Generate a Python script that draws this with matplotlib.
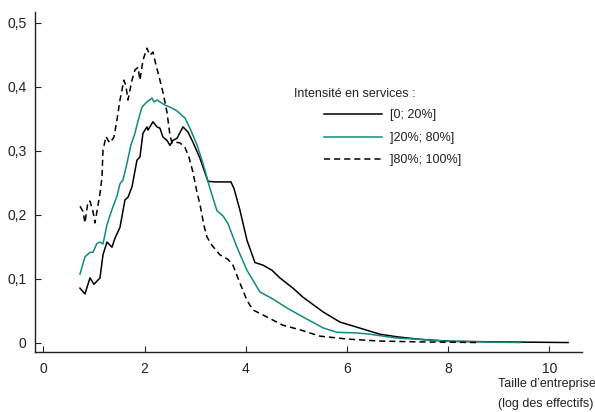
import matplotlib
matplotlib.use('Agg')
import matplotlib.pyplot as plt
from matplotlib.ticker import FuncFormatter

plt.rcParams['font.family'] = ['Liberation Sans', 'DejaVu Sans']

# [0; 20%]
x_low = [0.721, 0.820, 0.919, 0.998, 1.117, 1.176, 1.255, 1.354, 1.413, 1.512, 1.611, 1.670,
         1.749, 1.848, 1.907, 1.966, 2.045, 2.065, 2.164, 2.243, 2.302, 2.362, 2.441, 2.500,
         2.559, 2.638, 2.757, 2.856, 2.955, 3.093, 3.251, 3.389, 3.626, 3.705, 3.765, 3.883,
         4.022, 4.180, 4.338, 4.516, 4.674, 4.931, 5.128, 5.524, 5.860, 6.196, 6.650, 6.986,
         7.441, 8.034, 9.02, 10.37]
y_low = [0.085, 0.076, 0.101, 0.091, 0.101, 0.137, 0.157, 0.149, 0.163, 0.180, 0.223, 0.227,
         0.243, 0.285, 0.290, 0.327, 0.337, 0.332, 0.345, 0.337, 0.335, 0.321, 0.316, 0.308,
         0.316, 0.319, 0.337, 0.329, 0.313, 0.288, 0.252, 0.251, 0.251, 0.251, 0.241, 0.207,
         0.160, 0.125, 0.121, 0.113, 0.101, 0.085, 0.071, 0.048, 0.032, 0.024, 0.013, 0.009,
         0.005, 0.002, 0.001, 0.0]

# ]20%; 80%]
x_mid = [0.721, 0.820, 0.919, 0.978, 1.057, 1.117, 1.176, 1.255, 1.354, 1.453, 1.512, 1.571,
         1.650, 1.729, 1.808, 1.868, 1.947, 2.045, 2.144, 2.184, 2.243, 2.342, 2.401, 2.500,
         2.638, 2.737, 2.796, 2.895, 3.034, 3.152, 3.290, 3.429, 3.547, 3.646, 3.824, 4.022,
         4.279, 4.536, 4.812, 5.128, 5.524, 5.800, 6.196, 6.453, 6.986, 7.441, 7.974, 8.686,
         9.42]
y_mid = [0.107, 0.134, 0.141, 0.141, 0.155, 0.157, 0.154, 0.184, 0.208, 0.229, 0.248, 0.254,
         0.280, 0.309, 0.327, 0.346, 0.368, 0.376, 0.382, 0.376, 0.379, 0.374, 0.371, 0.368,
         0.362, 0.355, 0.351, 0.335, 0.309, 0.280, 0.241, 0.206, 0.198, 0.186, 0.149, 0.113,
         0.079, 0.068, 0.054, 0.040, 0.023, 0.016, 0.015, 0.013, 0.007, 0.005, 0.002, 0.001,
         0.0]

# ]80%; 100%]
x_high = [0.721, 0.781, 0.820, 0.879, 0.919, 0.978, 1.018, 1.057, 1.117, 1.156, 1.176, 1.235,
          1.275, 1.314, 1.393, 1.453, 1.512, 1.591, 1.630, 1.670, 1.749, 1.808, 1.868, 1.907,
          1.966, 2.045, 2.105, 2.164, 2.223, 2.302, 2.362, 2.441, 2.500, 2.540, 2.619, 2.697,
          2.796, 2.875, 2.955, 3.034, 3.093, 3.172, 3.231, 3.330, 3.488, 3.646, 3.745, 3.883,
          4.022, 4.140, 4.417, 4.733, 5.069, 5.464, 5.998, 6.650, 7.44, 8.63]
y_high = [0.213, 0.205, 0.187, 0.220, 0.221, 0.205, 0.187, 0.205, 0.233, 0.258, 0.300, 0.322,
          0.316, 0.312, 0.321, 0.348, 0.379, 0.410, 0.401, 0.379, 0.410, 0.426, 0.430, 0.410,
          0.441, 0.460, 0.449, 0.454, 0.434, 0.410, 0.391, 0.360, 0.324, 0.312, 0.313, 0.312,
          0.305, 0.290, 0.266, 0.235, 0.216, 0.183, 0.165, 0.152, 0.137, 0.130, 0.121, 0.093,
          0.066, 0.051, 0.040, 0.027, 0.020, 0.010, 0.0055, 0.0023, 0.001, 0.0]

labels = ['[0; 20%]', ']20%; 80%]', ']80%; 100%]']
x_ticks = [0, 2, 4, 6, 8, 10]
y_ticks = [0, 0.1, 0.2, 0.3, 0.4, 0.5]

teal = '#128a7c'
ink = '#222222'

fig = plt.figure(figsize=(5.95, 4.12), dpi=100)
ax = fig.add_axes([0.0588, 0.1456, 0.9189, 0.826])

ax.plot(x_low, y_low, color='black', lw=1.1, label=labels[0])
ax.plot(x_mid, y_mid, color=teal, lw=1.1, label=labels[1])
ax.plot(x_high, y_high, color='black', lw=1.1, dashes=(4, 2.6), label=labels[2])

ax.set_xlim(-0.168, 10.64)
ax.set_ylim(-0.0148, 0.517)
ax.set_xticks(x_ticks)
ax.set_yticks(y_ticks)
ax.yaxis.set_major_formatter(FuncFormatter(lambda v, p: '0' if v == 0 else ('%.1f' % v).replace('.', ',')))

for s in ['top', 'right']:
    ax.spines[s].set_visible(False)
for s in ['left', 'bottom']:
    ax.spines[s].set_color(ink)
    ax.spines[s].set_linewidth(1.0)
ax.tick_params(direction='in', length=4, width=0.8, color=ink, labelcolor=ink, labelsize=10)
ax.tick_params(axis='y', pad=6)
ax.tick_params(axis='x', pad=7)

fig.text(294 / 595, 1 - 94 / 412, 'Intensité en services :', fontsize=9, color=ink,
         ha='left', va='center')
leg = ax.legend(loc='upper left', bbox_to_anchor=(318 / 595, 1 - 103 / 412),
                bbox_transform=fig.transFigure, frameon=False, fontsize=9,
                handlelength=4.6, handletextpad=0.7, labelspacing=0.85, borderpad=0)
for t in leg.get_texts():
    t.set_color(ink)

fig.text(498 / 595, 1 - 384 / 412, 'Taille d\u2019entreprise', fontsize=9, color=ink,
         ha='left', va='center')
fig.text(498 / 595, 1 - 404 / 412, '(log des effectifs)', fontsize=9, color=ink,
         ha='left', va='center')

fig.savefig('out.png', dpi=100)
